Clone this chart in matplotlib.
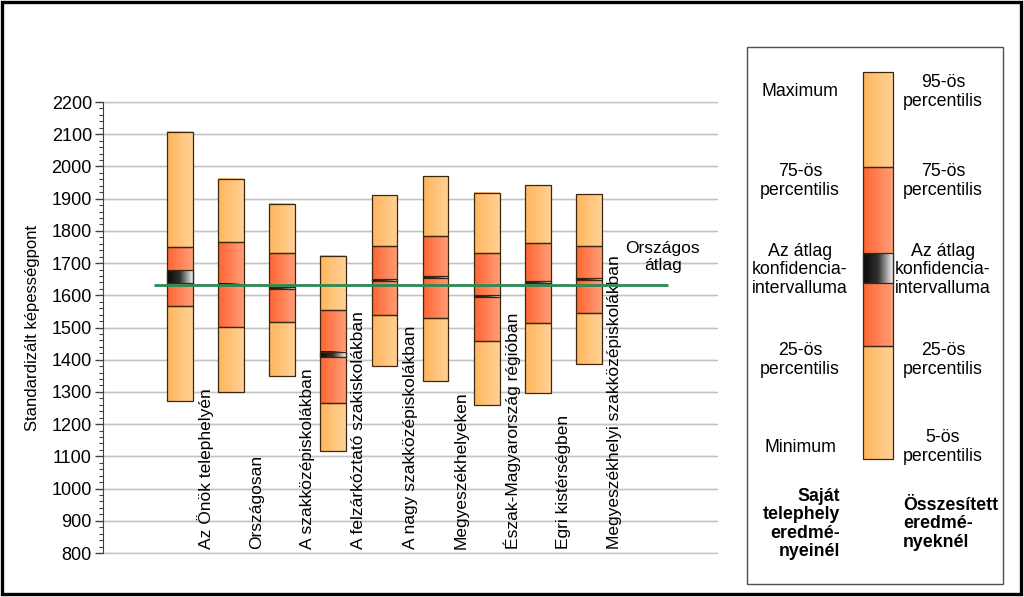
import numpy as np
import matplotlib
matplotlib.use("Agg")
import matplotlib.pyplot as plt
from matplotlib.patches import Rectangle
from matplotlib.colors import LinearSegmentedColormap

plt.rcParams['font.family'] = ['Liberation Sans', 'DejaVu Sans']

categories = ["Az Önök telephelyén", "Országosan", "A szakközépiskolákban",
              "A felzárkóztató szakiskolákban", "A nagy szakközépiskolákban",
              "Megyeszékhelyeken", "Észak-Magyarország régióban",
              "Egri kistérségben", "Megyeszékhelyi szakközépiskolákban"]
minimum = [1273, 1301, 1350, 1117, 1380, 1333, 1260, 1297, 1386]
q1 = [1566, 1502, 1516, 1267, 1540, 1530, 1458, 1514, 1544]
ci_low = [1639, 1631, 1621, 1408, 1645, 1655, 1594, 1637, 1648]
ci_high = [1679, 1636, 1627, 1425, 1651, 1661, 1600, 1643, 1654]
q3 = [1749, 1764, 1730, 1554, 1753, 1785, 1732, 1763, 1754]
maximum = [2108, 1961, 1884, 1723, 1910, 1971, 1919, 1941, 1913]
national_avg = 1633
yticks = list(range(800, 2201, 100))

light_cmap = LinearSegmentedColormap.from_list("light", ["#FFB65C", "#FFD196"])
mid_cmap = LinearSegmentedColormap.from_list("mid", ["#FF6432", "#FF9E78"])
ci_cmap = LinearSegmentedColormap.from_list("ci", ["#0a0a0a", "#303030", "#f0f0f0"])
grad = np.linspace(0, 1, 64).reshape(1, -1)

fig = plt.figure(figsize=(10.24, 5.97), dpi=100)
ax = fig.add_axes([103/1024, 1-553/597, (717-103)/1024, (553-102)/597])

W = 0.5
edge = "#3c2810"


def seg(ax, x, lo, hi, cmap, w=W):
    ax.imshow(grad, cmap=cmap, extent=[x-w/2, x+w/2, lo, hi], aspect='auto',
              interpolation='bilinear', zorder=2)
    ax.add_patch(Rectangle((x-w/2, lo), w, hi-lo, facecolor='none',
                           edgecolor=edge, linewidth=0.9, zorder=3))


for i in range(len(categories)):
    seg(ax, i, minimum[i], q1[i], light_cmap)
    seg(ax, i, q1[i], q3[i], mid_cmap)
    seg(ax, i, q3[i], maximum[i], light_cmap)
    seg(ax, i, ci_low[i], ci_high[i], ci_cmap)
    ax.text(i + 0.5, 813, categories[i], rotation=90, ha='center', va='bottom',
            fontsize=12.5, color='black', zorder=5)

ax.plot([-0.5, 9.55], [national_avg, national_avg], color='#2a8a55',
        linewidth=2.0, zorder=6, solid_capstyle='butt')
ax.text(9.44, 1719, "Országos\nátlag", ha='center', va='center', fontsize=12.5,
        linespacing=1.15)

ax.set_xlim(-1.5, 10.5)
ax.set_ylim(800, 2200)
ax.set_yticks(yticks)
ax.set_yticks(list(range(800, 2201, 20)), minor=True)
ax.set_xticks([])
ax.tick_params(axis='y', which='major', length=6, width=1, color='#404040',
               labelsize=13, pad=2)
ax.tick_params(axis='y', which='minor', length=3, width=0.8, color='#404040')
for s in ['top', 'right', 'bottom']:
    ax.spines[s].set_visible(False)
ax.spines['left'].set_color('#404040')
ax.yaxis.grid(True, color='#c4c4c4', linewidth=1)
ax.set_axisbelow(True)
for t in yticks:
    ax.axhline(t, color='#c4c4c4', linewidth=1, zorder=0, clip_on=False)
ax.set_ylabel("Standardizált képességpont", fontsize=12, labelpad=8)

# overlay for legend and frame (pixel coordinates)
ov = fig.add_axes([0, 0, 1, 1], facecolor='none')
ov.set_xlim(0, 1024)
ov.set_ylim(597, 0)
ov.axis('off')

ov.add_patch(Rectangle((1.5, 1.5), 1019, 592, facecolor='none', edgecolor='black',
                       linewidth=2.4))
ov.add_patch(Rectangle((747, 47), 256, 537, facecolor='white', edgecolor='#505050',
                       linewidth=1))


def lseg(y0, y1, cmap):
    ov.imshow(grad, cmap=cmap, extent=[863, 893, y1, y0], aspect='auto',
              interpolation='bilinear', zorder=2)
    ov.add_patch(Rectangle((863, y0), 30, y1-y0, facecolor='none', edgecolor=edge,
                           linewidth=0.9, zorder=3))


lseg(72, 167, light_cmap)
lseg(167, 346, mid_cmap)
lseg(346, 459, light_cmap)
lseg(253, 283, ci_cmap)
ov.set_xlim(0, 1024)
ov.set_ylim(597, 0)

left_txt = [("Maximum", 92), ("75-ös\npercentilis", 181),
            ("Az átlag\nkonfidencia-\nintervalluma", 270),
            ("25-ös\npercentilis", 360), ("Minimum", 448)]
right_txt = [("95-ös\npercentilis", 92), ("75-ös\npercentilis", 181),
             ("Az átlag\nkonfidencia-\nintervalluma", 270),
             ("25-ös\npercentilis", 360), ("5-ös\npercentilis", 447)]
for t, y in left_txt:
    ov.text(800, y, t, ha='center', va='center', fontsize=12.8, linespacing=1.1,
            multialignment='center')
for t, y in right_txt:
    ov.text(943, y, t, ha='center', va='center', fontsize=12.8, linespacing=1.1,
            multialignment='center')
ov.text(840, 524, "Saját\ntelephely\neredmé-\nnyeinél", ha='right', va='center',
        fontsize=12.8, fontweight='bold', linespacing=1.1, multialignment='right')
ov.text(903, 524, "Összesített\neredmé-\nnyeknél", ha='left', va='center',
        fontsize=12.8, fontweight='bold', linespacing=1.1, multialignment='left')

fig.savefig("out.png", dpi=100)
